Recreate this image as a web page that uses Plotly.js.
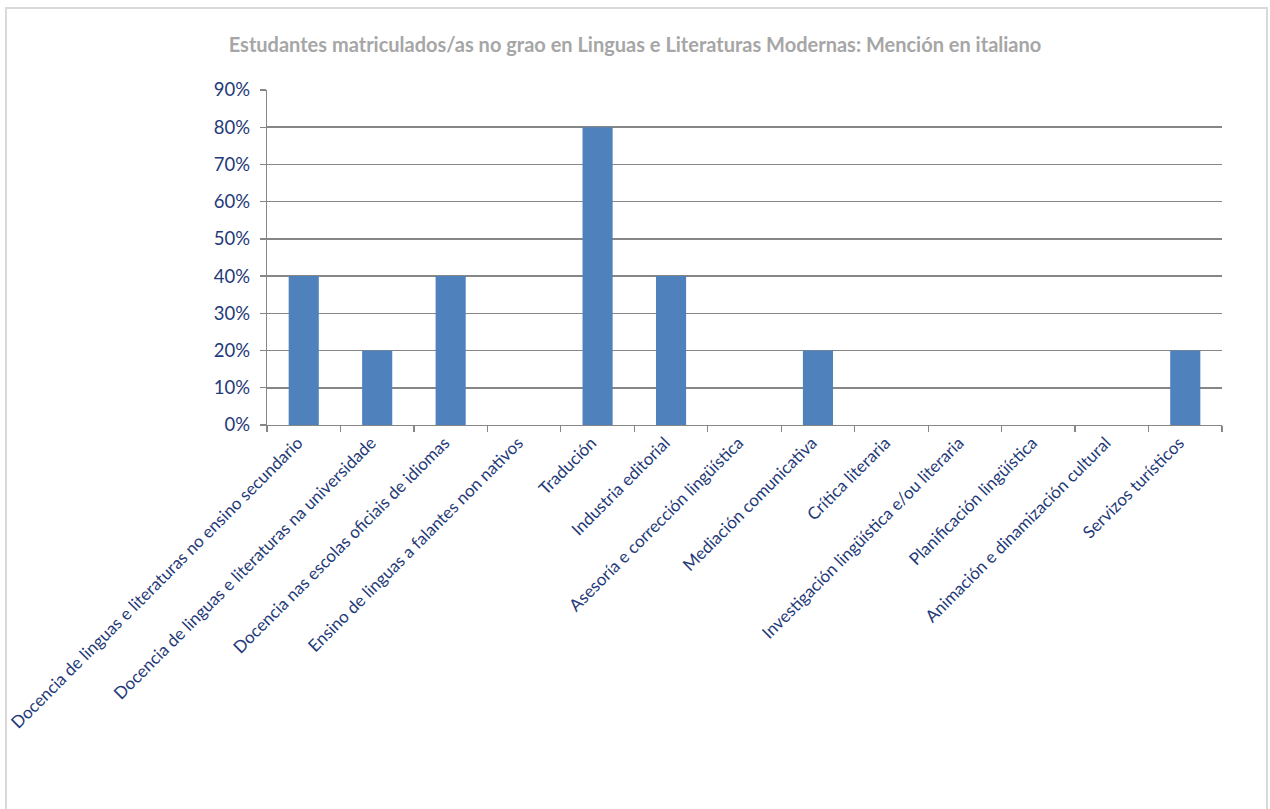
<!DOCTYPE html>
<html>
<head>
<meta charset="utf-8">
<script src="https://cdn.plot.ly/plotly-3.0.1.min.js"></script>
<style>
html,body{margin:0;padding:0;background:#fff;}
#chart{width:1270px;height:809px;}
</style>
</head>
<body>
<div id="chart"></div>
<script>
const categories = [
  "Docencia de linguas e literaturas no ensino secundario",
  "Docencia de linguas e literaturas na universidade",
  "Docencia nas escolas oficiais de idiomas",
  "Ensino de linguas a falantes non nativos",
  "Tradución",
  "Industria editorial",
  "Asesoría e corrección lingüística",
  "Mediación comunicativa",
  "Crítica literaria",
  "Investigación lingüística e/ou literaria",
  "Planificación lingüística",
  "Animación e dinamización cultural",
  "Servizos turísticos"
];
const values = [0.4, 0.2, 0.4, 0, 0.8, 0.4, 0, 0.2, 0, 0, 0, 0, 0.2];
const yTickVals = [0, 0.1, 0.2, 0.3, 0.4, 0.5, 0.6, 0.7, 0.8, 0.9];
const yTickText = ["0%", "10%", "20%", "30%", "40%", "50%", "60%", "70%", "80%", "90%"];
const chartTitle = "Estudantes matriculados/as no grao en Linguas e Literaturas Modernas: Mención en italiano";

const navy = "#1F3A78";
const gridCol = "#868686";
const fam = "Lato, 'Open Sans', sans-serif";

Plotly.newPlot("chart", [{
  type: "bar",
  x: categories,
  y: values,
  marker: {color: "#4F81BD"},
  hoverinfo: "x+y"
}], {
  width: 1270, height: 809,
  margin: {l: 267, r: 48, t: 90, b: 384, pad: 0},
  paper_bgcolor: "#fff",
  plot_bgcolor: "#fff",
  bargap: 0.59,
  showlegend: false,
  title: {
    text: chartTitle,
    font: {family: fam, size: 20, color: "#A6A6A6", weight: "bold"},
    x: 0.5, xref: "container", xanchor: "center",
    y: 44, yref: "container", yanchor: "middle"
  },
  font: {family: fam, color: navy},
  xaxis: {
    type: "category",
    tickangle: -45,
    tickfont: {size: 17, color: navy, family: fam},
    ticks: "outside", ticklen: 6, tickcolor: gridCol, tickwidth: 1.3,
    tickson: "boundaries",
    ticklabelshift: -6,
    showline: true, linecolor: gridCol, linewidth: 1.3,
    showgrid: false,
    fixedrange: true
  },
  yaxis: {
    range: [0, 0.9],
    tickvals: yTickVals, ticktext: yTickText,
    tickfont: {size: 18.5, color: navy, family: fam},
    ticks: "outside", ticklen: 6, tickcolor: gridCol, tickwidth: 1.3,
    ticklabelstandoff: 6,
    showline: true, linecolor: gridCol, linewidth: 1.3,
    showgrid: true, gridcolor: gridCol, gridwidth: 1.5,
    zeroline: false,
    fixedrange: true
  },
  shapes: [{
    type: "rect", xref: "paper", yref: "paper",
    x0: (6 - 267) / 955, x1: (1267 - 267) / 955,
    y0: -(815 - 425) / 335, y1: 1 + (90 - 8) / 335,
    line: {color: "#D9D9D9", width: 2}, fillcolor: "rgba(0,0,0,0)", layer: "below"
  }]
}, {displayModeBar: false, staticPlot: true});
</script>
</body>
</html>
